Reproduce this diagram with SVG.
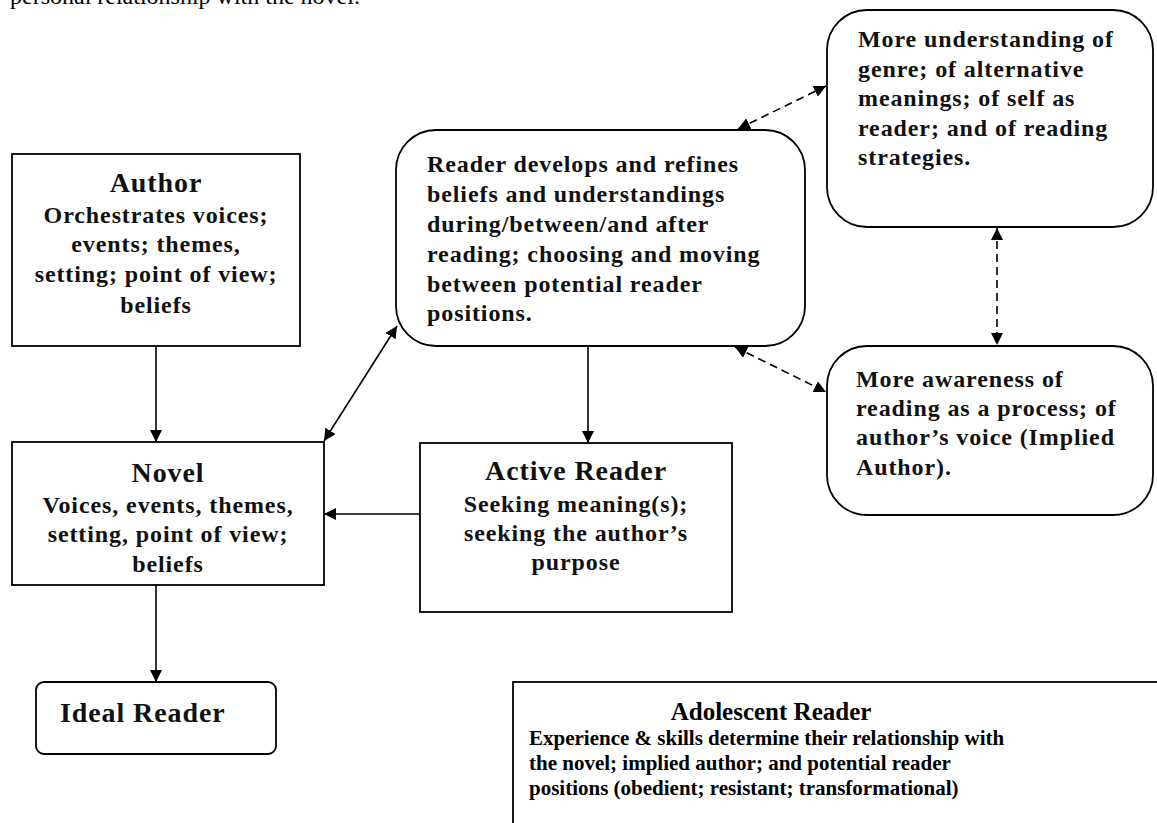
<svg xmlns="http://www.w3.org/2000/svg" width="1157" height="823" viewBox="0 0 1157 823">
<style>
.box{fill:#fff;stroke:#000;stroke-width:1.8}
.g{font-family:"Liberation Serif","Times New Roman",serif;font-weight:bold;fill:#111;letter-spacing:0.9px}
.t{font-size:28px}
.b{font-size:24px}
.c{text-anchor:middle}
.ln{stroke:#000;stroke-width:1.6;fill:none}
.d{stroke-dasharray:8 5}
.r{font-family:"Liberation Serif","Times New Roman",serif;fill:#000}
</style>
<defs>
<marker id="ah" viewBox="0 0 12 12" markerWidth="12" markerHeight="12" refX="12" refY="6" orient="auto-start-reverse" markerUnits="userSpaceOnUse">
<path d="M0,0 L12,6 L0,12 z" fill="#000"/>
</marker>
</defs>
<text class="r" x="10" y="4" font-size="24">personal relationship with the novel.</text>
<g id="connectors">
<line class="ln" x1="156" y1="346" x2="156" y2="442" marker-end="url(#ah)"/>
<line class="ln" x1="156" y1="585" x2="156" y2="682" marker-end="url(#ah)"/>
<line class="ln" x1="420" y1="514" x2="324" y2="514" marker-end="url(#ah)"/>
<line class="ln" x1="588" y1="346" x2="588" y2="443" marker-end="url(#ah)"/>
<line class="ln" x1="324" y1="441" x2="397" y2="326" marker-start="url(#ah)" marker-end="url(#ah)"/>
<line class="ln d" x1="738" y1="129" x2="826" y2="86" marker-start="url(#ah)" marker-end="url(#ah)"/>
<line class="ln d" x1="735" y1="347" x2="826" y2="392" marker-start="url(#ah)" marker-end="url(#ah)"/>
<line class="ln d" x1="997" y1="228" x2="997" y2="345" marker-start="url(#ah)" marker-end="url(#ah)"/>
<line class="ln" x1="660" y1="298" x2="660" y2="322"/>
</g>
<g id="author">
<rect class="box" x="12" y="154" width="288" height="192"/>
<text class="g t c" x="156" y="192">Author</text>
<text class="g b c" x="156" y="223">Orchestrates voices;</text>
<text class="g b c" x="156" y="252">events; themes,</text>
<text class="g b c" x="156" y="282">setting; point of view;</text>
<text class="g b c" x="156" y="313">beliefs</text>
</g>
<g id="novel">
<rect class="box" x="12" y="442" width="312" height="143"/>
<text class="g t c" x="168" y="482">Novel</text>
<text class="g b c" x="168" y="513">Voices, events, themes,</text>
<text class="g b c" x="168" y="542">setting, point of view;</text>
<text class="g b c" x="168" y="572">beliefs</text>
</g>
<g id="ideal-reader">
<rect class="box" x="36" y="682" width="240" height="72" rx="8"/>
<text class="g t" x="60" y="722">Ideal Reader</text>
</g>
<g id="active-reader">
<rect class="box" x="420" y="443" width="312" height="169"/>
<text class="g t c" x="576" y="480">Active Reader</text>
<text class="g b c" x="576" y="512">Seeking meaning(s);</text>
<text class="g b c" x="576" y="541">seeking the author’s</text>
<text class="g b c" x="576" y="570">purpose</text>
</g>
<g id="reader-develops">
<rect class="box" x="396" y="130" width="409" height="216" rx="40"/>
<text class="g b" x="427" y="172">Reader develops and refines</text>
<text class="g b" x="427" y="202">beliefs and understandings</text>
<text class="g b" x="427" y="232">during/between/and after</text>
<text class="g b" x="427" y="262">reading; choosing and moving</text>
<text class="g b" x="427" y="292">between potential reader</text>
<text class="g b" x="427" y="321">positions.</text>
</g>
<g id="more-understanding">
<rect class="box" x="827" y="10" width="326" height="217" rx="40"/>
<text class="g b" x="858" y="47">More understanding of</text>
<text class="g b" x="858" y="77">genre; of alternative</text>
<text class="g b" x="858" y="106">meanings; of self as</text>
<text class="g b" x="858" y="136">reader; and of reading</text>
<text class="g b" x="858" y="165">strategies.</text>
</g>
<g id="more-awareness">
<rect class="box" x="827" y="346" width="326" height="169" rx="40"/>
<text class="g b" x="856" y="387">More awareness of</text>
<text class="g b" x="856" y="416">reading as a process; of</text>
<text class="g b" x="856" y="445">author’s voice (Implied</text>
<text class="g b" x="856" y="475">Author).</text>
</g>
<g id="adolescent-reader">
<rect class="box" x="513" y="682" width="660" height="160" stroke-width="1.4"/>
<text class="r c" x="771" y="720" font-size="25" font-weight="bold">Adolescent Reader</text>
<text class="r" x="529" y="745" font-size="21" font-weight="bold">Experience &amp; skills determine their relationship with</text>
<text class="r" x="529" y="770" font-size="21" font-weight="bold">the novel; implied author; and potential reader</text>
<text class="r" x="529" y="795" font-size="21" font-weight="bold">positions (obedient; resistant; transformational)</text>
</g>
</svg>
